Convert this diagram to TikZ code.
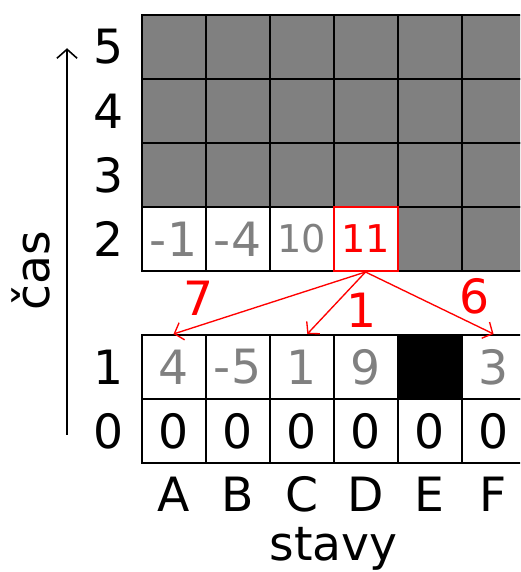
\documentclass[tikz,border=0pt]{standalone}
\usepackage{fontspec}
\setmainfont{DejaVu Sans}
\usetikzlibrary{arrows.meta, positioning}
\definecolor{cellgray}{HTML}{808080}
\definecolor{pathred}{HTML}{FF0000}

\begin{document}
\begin{tikzpicture}[
    cell/.style={rectangle, draw=black, line width=0.9pt, minimum size=1cm, inner sep=0pt, font=\fontsize{21}{25}\selectfont},
    blocked/.style={cell, fill=cellgray},
    wall/.style={cell, fill=black},
    val/.style={cell, text=cellgray},
    small/.style={font=\fontsize{17}{20}\selectfont},
    best/.style={cell, small, draw=pathred, text=pathred},
    lbl/.style={font=\fontsize{21}{25}\selectfont, inner sep=1pt},
    cost/.style={lbl, text=pathred},
    arrow/.style={-{Straight Barb[length=3.5pt, width=8pt]}, draw=pathred, line width=0.6pt},
    tarrow/.style={-{Straight Barb[length=4pt, width=9pt]}, line width=0.7pt}
]

\clip (-2.211,-1.703) rectangle (5.914,7.234);

% start row
\foreach \c/\x in {A/0, B/1, C/2, D/3, E/4, F/5}
    \node[cell] (\c0) at (\x+0.5, 0.5) {0};

% time 1
\foreach \c/\x/\v in {A/0/4, B/1/-5, C/2/1, D/3/9, F/5/3}
    \node[val] (\c1) at (\x+0.5, 1.5) {\v};
\node[wall] (E1) at (4.5, 1.5) {};

% time 2
\node[val] (A2) at (0.5, 3.5) {-1};
\node[val] (B2) at (1.5, 3.5) {-4};
\node[val, small] (C2) at (2.5, 3.5) {10};
\node[blocked] (E2) at (4.5, 3.5) {};
\node[blocked] (F2) at (5.5, 3.5) {};

% not computed yet
\foreach \r/\y in {3/4.5, 4/5.5, 5/6.5}
    \foreach \c/\x in {A/0, B/1, C/2, D/3, E/4, F/5}
        \node[blocked] (\c\r) at (\x+0.5, \y) {};

\node[best] (D2) at (3.5, 3.5) {11};

% axes
\foreach \r/\y in {0/0.5, 1/1.5, 2/3.5, 3/4.5, 4/5.5, 5/6.5}
    \node[lbl] (row\r) at (-0.52, \y) {\r};
\foreach \c/\x in {A/0, B/1, C/2, D/3, E/4, F/5}
    \node[lbl, anchor=base] (col\c) at (\x+0.5, -0.76) {\c};
\node[lbl, anchor=base] (stavy) at (3, -1.516) {stavy};

\coordinate (tbot) at (-1.164, 0.44);
\coordinate (ttop) at (-1.164, 6.48);
\draw[tarrow] (tbot) -- (ttop);
\node[lbl, rotate=90] (cas) at (-1.72, 3) {čas};

% transitions
\draw[arrow] (D2.south) -- (A1.north);
\draw[arrow] (D2.south) -- ([xshift=0.09cm]C1.north);
\draw[arrow] (D2.south) -- (F1.north);
\node[cost] (costA) at (0.89, 2.57) {7};
\node[cost] (costC) at (3.43, 2.39) {1};
\node[cost] (costF) at (5.2, 2.6) {6};

\end{tikzpicture}
\end{document}
